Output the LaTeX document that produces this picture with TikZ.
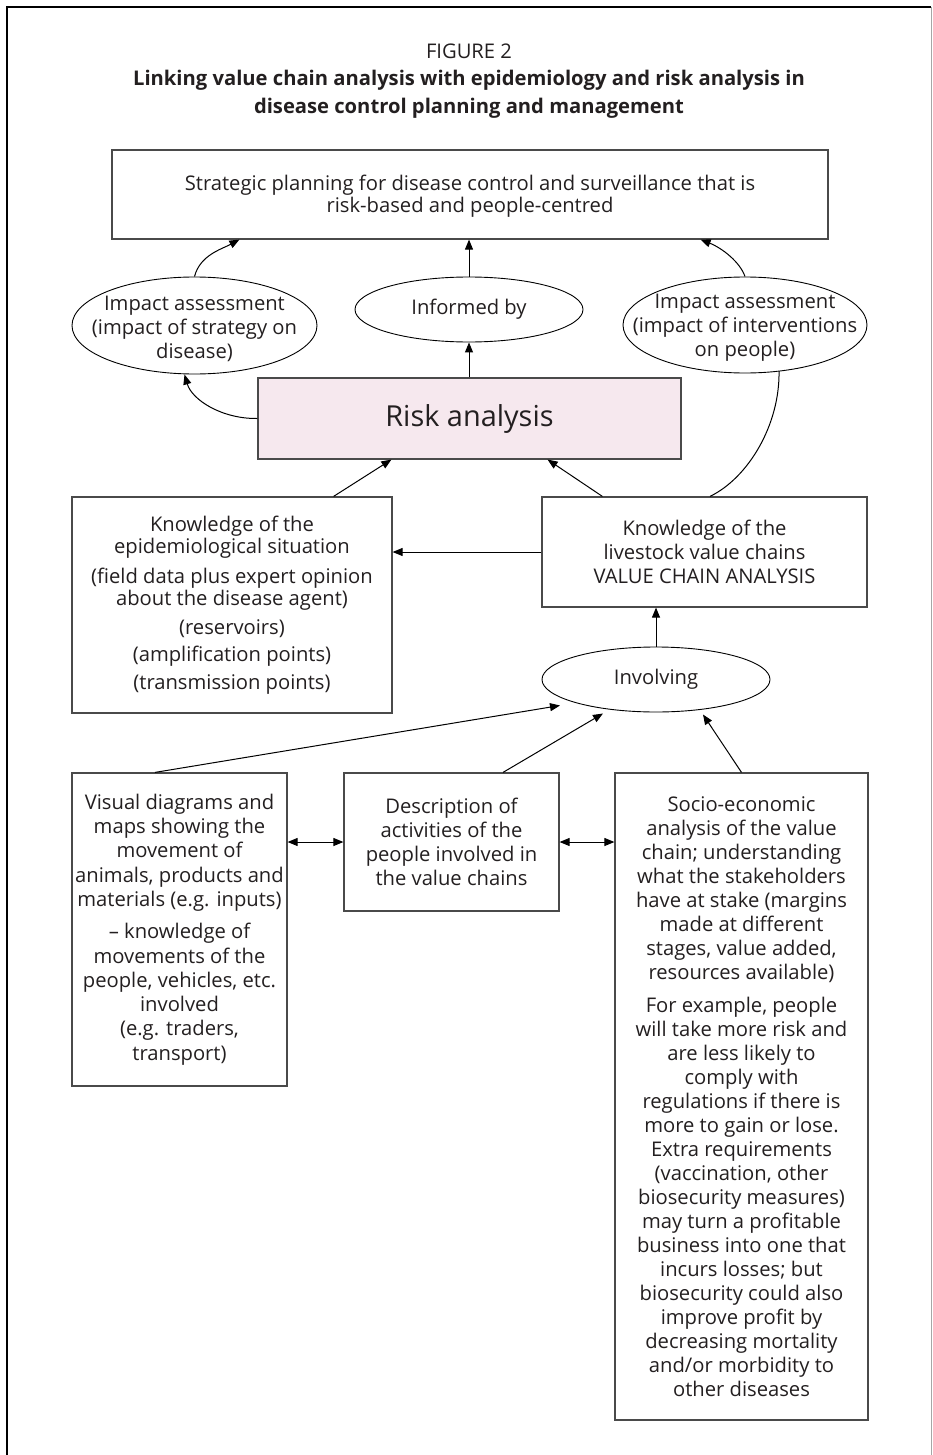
\documentclass[tikz,border=0pt]{standalone}
\usepackage{fontspec}
\setmainfont{Open Sans}
\usetikzlibrary{arrows.meta,shapes.geometric,calc}
\definecolor{inkgray}{HTML}{231F20}
\definecolor{bordr}{HTML}{4A4A4A}
\definecolor{riskfill}{HTML}{F6E8EE}
\begin{document}
\begin{tikzpicture}[x=1pt,y=-1pt, font=\fontsize{20.2}{23}\selectfont, text=inkgray,
  box/.style={draw=bordr, line width=1.2pt, rectangle, inner sep=0pt, align=center},
  ell/.style={draw=black, line width=0.9pt, ellipse, inner sep=0pt},
  lbl/.style={align=center, inner sep=0pt},
  arr/.style={-{Triangle[length=10pt,width=8pt]}, line width=1pt},
  darr/.style={{Triangle[length=10pt,width=8pt]}-{Triangle[length=10pt,width=8pt]}, line width=1pt},
  ln/.style={line width=1pt}]
\useasboundingbox (0,0) rectangle (932,1455);
% frame
\draw[line width=1.5pt] (7,1455) -- (7,7) -- (931,7);
\draw[gray!70, line width=1pt] (931,7) -- (931,1455);
% title
\node[lbl, font=\fontsize{20.2}{27.5}\selectfont] (title) at (469,81) {FIGURE 2\\\textbf{Linking value chain analysis with epidemiology and risk analysis in}\\\textbf{disease control planning and management}};
% top box
\node[box, minimum width=716pt, minimum height=89pt] (strat) at (470,194.5) {};
\node[lbl, font=\fontsize{20.2}{22}\selectfont] (stratt) at ([yshift=-2pt]strat.center) {Strategic planning for disease control and surveillance that is\\risk-based and people-centred};
% ellipses
\node[ell, minimum width=245pt, minimum height=97pt] (ell1) at (194.5,325.5) {};
\node[lbl, font=\fontsize{20.2}{24}\selectfont] (ell1t) at ([yshift=-3pt]ell1.center) {Impact assessment\\(impact of strategy on\\disease)};
\node[ell, minimum width=228pt, minimum height=65pt] (inf) at (469,309.5) {};
\node[lbl] (inft) at (inf.center) {Informed by};
\node[ell, minimum width=244pt, minimum height=96pt] (ell3) at (745,325) {};
\node[lbl, font=\fontsize{20.2}{24}\selectfont] (ell3t) at ([yshift=-3pt]ell3.center) {Impact assessment\\(impact of interventions\\on people)};
% risk
\node[box, fill=riskfill, minimum width=423pt, minimum height=81pt, font=\fontsize{28.9}{32}\selectfont] (risk) at (469.5,418.5) {Risk analysis};
% knowledge boxes
\node[box, minimum width=320pt, minimum height=216pt, font=\fontsize{20.2}{22}\selectfont] (epi) at (232,605) {Knowledge of the\\epidemiological situation\\[8pt](field data plus expert opinion\\about the disease agent)\\[7pt](reservoirs)\\[5pt](amplification points)\\[6pt](transmission points)};
\node[box, minimum width=325pt, minimum height=110pt, font=\fontsize{20.2}{24}\selectfont] (vca) at (704.5,552) {Knowledge of the\\livestock value chains\\VALUE CHAIN ANALYSIS};
% involving
\node[ell, minimum width=228pt, minimum height=65pt] (inv) at (656,679.5) {};
\node[lbl] (invt) at (inv.center) {Involving};
% bottom boxes
\node[box, minimum width=215pt, minimum height=313pt, font=\fontsize{20.2}{24.3}\selectfont] (vis) at (179.5,929.5) {Visual diagrams and\\maps showing the\\movement of\\animals, products and\\materials (e.g. inputs)\\[8pt]– knowledge of\\movements of the\\people, vehicles, etc.\\involved\\(e.g. traders,\\transport)};
\node[box, minimum width=215pt, minimum height=138pt, font=\fontsize{20.2}{23.8}\selectfont] (desc) at (451.5,842) {Description of\\activities of the\\people involved in\\the value chains};
\node[box, minimum width=253pt, minimum height=647pt, font=\fontsize{20.2}{24}\selectfont] (socio) at (741.5,1096.5) {Socio-economic\\analysis of the value\\chain; understanding\\what the stakeholders\\have at stake (margins\\made at different\\stages, value added,\\resources available)\\[9pt]For example, people\\will take more risk and\\are less likely to\\comply with\\regulations if there is\\more to gain or lose.\\Extra requirements\\(vaccination, other\\biosecurity measures)\\may turn a profitable\\business into one that\\incurs losses; but\\biosecurity could also\\improve profit by\\decreasing mortality\\and/or morbidity to\\other diseases};
% connectors
\draw[arr] (inf.north) -- (inf.north |- strat.south);
\draw[arr] (inf.south |- risk.north) -- (inf.south);
\draw[arr] (ell1.north) .. controls (200,255) and (222,249) .. ([xshift=128pt]strat.south west);
\draw[arr] (risk.west) .. controls (222,419) and (192,400) .. ([shift={(-10,49)}]ell1.center);
\draw[arr] (ell3.north) .. controls (740,262) and (722,248) .. ([xshift=-128pt]strat.south east);
\draw[ln] ([shift={(34,46)}]ell3.center) .. controls (780,425) and (748,478) .. ([xshift=5.5pt]vca.north);
\draw[arr] ([xshift=-59pt]epi.north east) -- ([xshift=134pt]risk.south west);
\draw[arr] ([xshift=61pt]vca.north west) -- ([xshift=-134pt]risk.south east);
\draw[arr] (vca.west) -- (vca.west -| epi.east);
\draw[arr] (inv.north) -- (inv.north |- vca.south);
\draw[arr] ([xshift=-24.5pt]vis.north) -- ([shift={(-96,26)}]inv.center);
\draw[arr] ([xshift=51.5pt]desc.north) -- ([shift={(-53,34)}]inv.center);
\draw[arr] (socio.north) -- ([shift={(47,35)}]inv.center);
\draw[darr] (desc.west -| vis.east) -- (desc.west);
\draw[darr] (desc.east) -- (desc.east -| socio.west);
\end{tikzpicture}
\end{document}
